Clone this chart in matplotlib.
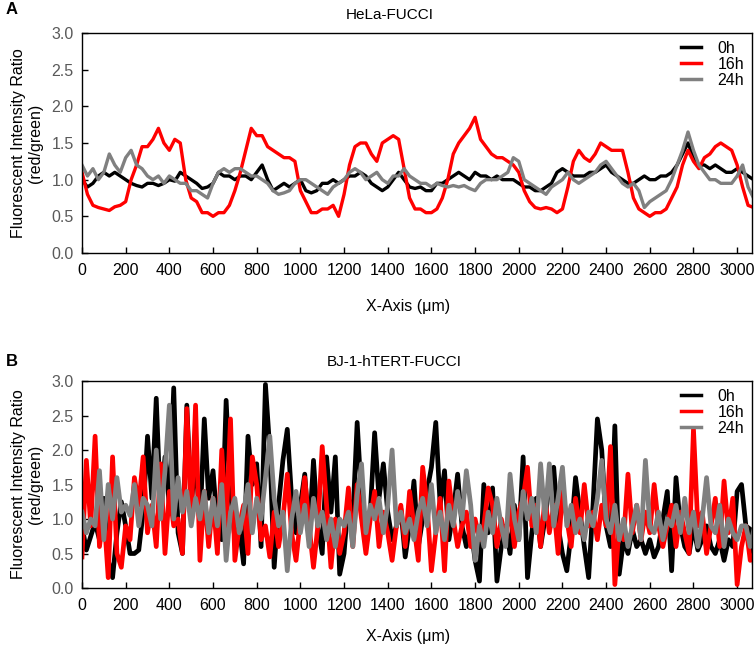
import numpy as np
import matplotlib
matplotlib.use("Agg")
import matplotlib.pyplot as plt

plt.rcParams['font.family'] = ['Liberation Sans', 'DejaVu Sans']

# ---------------- Panel A data (HeLa-FUCCI), 25 um steps ----------------
xa = np.arange(0, 3076, 25)
a_0h = [1.0, 0.9, 0.95, 1.05, 1.1, 1.05, 1.1, 1.05, 1.0, 0.95, 0.92, 0.9, 0.95, 0.95, 0.92, 0.95,
        1.0, 0.98, 1.1, 1.05, 1.0, 0.95, 0.88, 0.9, 0.95, 1.1, 1.05, 1.05, 1.0, 1.05, 1.05, 1.0,
        1.1, 1.2, 1.0, 0.85, 0.9, 0.95, 0.9, 0.95, 1.0, 0.85, 0.82, 0.85, 0.95, 0.95, 1.0, 0.95,
        1.0, 1.05, 1.05, 1.1, 1.05, 0.95, 0.9, 0.85, 0.9, 1.0, 1.1, 1.0, 0.9, 0.88, 0.9, 0.85,
        0.85, 0.95, 0.95, 1.0, 1.05, 1.1, 1.05, 1.0, 1.1, 1.05, 1.05, 1.0, 1.05, 1.0, 1.0, 1.0,
        0.95, 0.9, 0.9, 0.85, 0.85, 0.9, 0.95, 1.1, 1.15, 1.1, 1.05, 1.05, 1.05, 1.1, 1.1, 1.15,
        1.2, 1.1, 1.05, 1.0, 0.95, 0.95, 1.0, 1.05, 1.0, 1.0, 1.05, 1.05, 1.1, 1.2, 1.35, 1.5,
        1.3, 1.2, 1.2, 1.15, 1.2, 1.15, 1.1, 1.1, 1.15, 1.1, 1.05, 1.0]
a_16h = [1.1, 0.8, 0.65, 0.62, 0.6, 0.58, 0.63, 0.65, 0.7, 1.0, 1.2, 1.45, 1.45, 1.55, 1.7, 1.5,
         1.4, 1.55, 1.5, 1.0, 0.75, 0.7, 0.55, 0.55, 0.5, 0.55, 0.55, 0.65, 0.85, 1.1, 1.4, 1.7,
         1.6, 1.6, 1.45, 1.4, 1.35, 1.3, 1.3, 1.25, 0.85, 0.7, 0.55, 0.55, 0.6, 0.6, 0.65, 0.5,
         0.8, 1.2, 1.45, 1.5, 1.5, 1.35, 1.25, 1.5, 1.55, 1.6, 1.55, 1.15, 0.75, 0.6, 0.6, 0.55,
         0.55, 0.6, 0.75, 1.0, 1.35, 1.5, 1.6, 1.7, 1.85, 1.55, 1.45, 1.35, 1.3, 1.3, 1.25, 1.2,
         1.1, 0.85, 0.7, 0.62, 0.6, 0.62, 0.6, 0.55, 0.6, 0.9, 1.25, 1.4, 1.3, 1.25, 1.35, 1.5,
         1.45, 1.4, 1.4, 1.4, 1.1, 0.75, 0.6, 0.55, 0.5, 0.55, 0.55, 0.6, 0.75, 0.9, 1.2, 1.4,
         1.25, 1.15, 1.3, 1.35, 1.45, 1.5, 1.45, 1.4, 1.2, 0.9, 0.65, 0.62]
a_24h = [1.2, 1.05, 1.15, 1.0, 1.1, 1.35, 1.2, 1.1, 1.3, 1.4, 1.2, 1.15, 1.05, 1.0, 1.05, 0.95,
         1.05, 1.0, 0.95, 0.95, 0.85, 0.85, 0.8, 0.75, 0.95, 1.1, 1.15, 1.1, 1.15, 1.15, 1.1, 1.05,
         1.05, 1.0, 0.95, 0.85, 0.8, 0.82, 0.85, 0.95, 1.0, 1.0, 0.95, 0.9, 0.85, 0.8, 0.9, 0.95,
         1.0, 1.1, 1.15, 1.1, 1.0, 1.05, 1.1, 1.0, 0.95, 1.05, 1.05, 1.15, 1.05, 1.0, 0.95, 0.95,
         0.9, 0.95, 0.92, 0.9, 0.92, 0.9, 0.92, 0.88, 0.85, 0.95, 1.0, 1.0, 1.0, 1.05, 1.1, 1.3,
         1.25, 1.0, 0.95, 0.9, 0.85, 0.8, 0.9, 0.95, 1.0, 1.1, 1.0, 0.95, 1.0, 1.05, 1.1, 1.2,
         1.25, 1.15, 1.05, 0.95, 0.9, 0.95, 0.85, 0.62, 0.7, 0.75, 0.8, 0.85, 1.0, 1.2, 1.4, 1.65,
         1.4, 1.2, 1.1, 1.0, 1.0, 0.95, 0.95, 0.95, 1.05, 1.2, 0.9, 0.75]

# ---------------- Panel B data (BJ-1-hTERT-FUCCI), 20 um steps ----------------
xb = np.arange(0, 3081, 20)
b_0h = [0.9, 0.55, 0.75, 0.95, 0.7, 1.3, 0.4, 0.15, 0.8, 1.25, 0.9, 0.5, 0.5, 0.55, 1.1, 2.2,
        1.3, 2.75, 1.1, 1.9, 1.2, 2.9, 0.8, 0.5, 2.65, 1.2, 1.9, 0.9, 2.45, 1.3, 1.7, 0.9,
        0.7, 2.72, 1.4, 0.7, 0.9, 0.35, 2.2, 1.5, 1.8, 0.6, 2.95, 2.0, 0.3, 1.2, 1.85, 2.3,
        1.3, 0.8, 1.2, 1.65, 0.75, 1.85, 0.9, 0.5, 1.9, 1.1, 1.9, 0.2, 0.5, 1.3, 1.0, 2.4,
        1.3, 0.9, 1.1, 2.25, 1.3, 1.8, 1.1, 0.7, 0.9, 1.15, 0.45, 0.9, 1.55, 0.6, 1.0, 1.4,
        1.75, 2.4, 1.2, 1.7, 0.7, 1.1, 1.65, 0.9, 0.6, 0.9, 0.4, 0.1, 1.5, 0.8, 1.45, 0.1,
        0.6, 0.9, 0.5, 1.2, 0.7, 1.9, 0.15, 0.8, 1.3, 0.6, 1.0, 1.5, 1.75, 0.9, 0.5, 0.25,
        0.8, 1.6, 1.1, 0.6, 0.15, 1.2, 2.45, 2.0, 0.9, 0.6, 2.35, 0.2, 0.7, 0.5, 0.85, 0.6,
        0.7, 0.5, 0.7, 0.45, 0.6, 1.0, 1.4, 0.25, 1.6, 0.9, 0.6, 0.5, 0.9, 0.55, 0.7, 0.9,
        0.6, 0.5, 0.7, 0.4, 0.7, 0.6, 1.4, 1.5, 0.9, 0.85, 0.3]
b_16h = [0.45, 1.85, 0.9, 2.2, 0.6, 1.1, 0.15, 1.9, 0.5, 0.3, 0.9, 0.7, 1.6, 1.2, 1.9, 0.8,
         1.2, 0.6, 1.8, 0.5, 1.4, 0.9, 1.0, 0.5, 2.6, 1.0, 2.65, 0.4, 1.4, 0.6, 1.3, 0.5,
         2.0, 0.9, 2.45, 0.4, 0.9, 1.2, 0.5, 1.9, 1.5, 0.7, 0.9, 0.45, 1.1, 0.6, 1.0, 1.65,
         0.8, 0.4, 1.0, 1.6, 0.9, 0.3, 0.9, 2.05, 1.2, 0.3, 1.0, 0.5, 0.8, 1.45, 0.6, 1.5,
         1.0, 0.5, 1.0, 1.4, 0.6, 1.1, 0.8, 0.4, 0.9, 1.2, 0.6, 1.4, 0.9, 0.4, 1.75, 1.2,
         0.25, 0.8, 1.3, 0.25, 1.55, 1.0, 0.6, 0.9, 1.1, 0.6, 1.0, 0.7, 0.9, 1.45, 1.2, 0.6,
         1.0, 0.7, 1.2, 0.6, 1.1, 1.3, 1.75, 0.9, 1.2, 0.6, 1.3, 0.8, 1.2, 0.5, 1.4, 1.0,
         0.6, 1.3, 0.8, 1.5, 0.9, 1.1, 0.7, 1.2, 0.9, 2.05, 0.05, 0.9, 0.7, 1.65, 0.8, 1.2,
         0.7, 1.1, 0.8, 1.5, 0.9, 0.6, 0.9, 1.2, 0.6, 1.1, 0.8, 0.5, 2.3, 0.9, 1.1, 0.5,
         0.9, 1.3, 0.6, 1.55, 0.8, 1.3, 0.05, 0.6, 0.9, 0.4, 0.5]
b_24h = [1.1, 0.8, 1.0, 0.9, 1.7, 0.7, 1.5, 1.0, 1.6, 1.1, 1.2, 1.05, 1.5, 0.9, 1.3, 1.2,
         0.9, 2.0, 1.0, 1.7, 2.65, 1.0, 1.6, 1.1, 1.4, 0.9, 1.3, 1.0, 1.4, 0.8, 1.3, 0.9,
         1.5, 0.4, 1.1, 1.3, 0.8, 1.1, 1.5, 0.8, 1.3, 1.0, 1.6, 2.2, 1.3, 0.9, 1.1, 0.25,
         1.0, 1.4, 0.8, 1.2, 0.6, 1.3, 0.9, 1.1, 0.7, 1.0, 0.6, 1.0, 0.9, 1.1, 0.6, 1.35,
         1.8, 0.8, 1.2, 1.0, 1.3, 0.8, 1.2, 2.0, 0.9, 1.1, 0.8, 1.0, 0.7, 1.1, 1.3, 0.9,
         1.5, 0.8, 1.1, 0.7, 1.2, 0.9, 1.4, 1.0, 1.7, 1.2, 0.4, 0.9, 0.6, 1.1, 0.8, 1.3,
         0.9, 0.6, 1.65, 1.0, 0.7, 1.4, 1.0, 1.3, 0.8, 1.8, 1.0, 1.8, 0.9, 1.3, 1.75, 0.9,
         1.2, 0.8, 1.0, 0.7, 1.1, 0.9, 1.3, 1.85, 1.0, 0.8, 1.2, 0.7, 1.0, 0.6, 0.9, 1.2,
         0.7, 1.85, 0.9, 0.8, 1.1, 0.7, 1.0, 0.9, 1.2, 0.8, 1.3, 0.8, 1.1, 0.6, 1.0, 1.6,
         0.9, 0.8, 1.2, 0.6, 1.0, 0.8, 0.7, 0.9, 0.9, 0.6, 0.9]

labels = ['0h', '16h', '24h']
colors = ['#000000', '#ff0000', '#808080']
xticks = list(range(0, 3001, 200))
yticks = [0.0, 0.5, 1.0, 1.5, 2.0, 2.5, 3.0]
titles = ['HeLa-FUCCI', 'BJ-1-hTERT-FUCCI']

W, H = 755, 648
FS = 11.5
fig = plt.figure(figsize=(W / 100, H / 100), dpi=100)

def make_axes(top_px, bot_px):
    return fig.add_axes([82 / W, 1 - bot_px / H, (752 - 82) / W, (bot_px - top_px) / H])

axA = make_axes(33, 253)
axB = make_axes(381, 588)

for ax, xs, series, lw in [(axA, xa, [a_0h, a_16h, a_24h], 2.4),
                           (axB, xb, [b_0h, b_16h, b_24h], 3.4)]:
    for ys, c, lab in zip(series, colors, labels):
        ax.plot(xs, ys, color=c, lw=lw, label=lab, solid_joinstyle='round')
    ax.set_xlim(0, 3068)
    ax.set_ylim(0, 3.0)
    ax.set_xticks(xticks)
    ax.set_xticklabels([str(t) for t in xticks], fontsize=FS)
    ax.set_yticks(yticks)
    ax.set_yticklabels([f'{t:.1f}' for t in yticks], fontsize=FS, color='#595959')
    ax.tick_params(axis='both', direction='in', length=4, width=1, top=False, right=False)
    ax.tick_params(axis='x', pad=7)
    ax.tick_params(axis='y', pad=6)
    for s in ax.spines.values():
        s.set_linewidth(1.0)
    ax.set_ylabel('Fluorescent Intensity Ratio\n(red/green)', fontsize=FS, labelpad=6,
                  linespacing=1.15)
    leg = ax.legend(loc='upper right', frameon=False, fontsize=FS, handlelength=1.3,
                    handletextpad=1.0, labelspacing=0.05, borderaxespad=0.1)
    for t in leg.get_texts():
        t.set_ha('right')
    for h in leg.get_lines():
        h.set_linewidth(2.5)

fig.text(408 / W, 1 - 307 / H, 'X-Axis (μm)', ha='center', va='center', fontsize=FS)
fig.text(408 / W, 1 - 637 / H, 'X-Axis (μm)', ha='center', va='center', fontsize=FS)
fig.text(390 / W, 1 - 15 / H, titles[0], ha='center', va='center', fontsize=11)
fig.text(394 / W, 1 - 362 / H, titles[1], ha='center', va='center', fontsize=11)
fig.text(12 / W, 1 - 10 / H, 'A', ha='center', va='center', fontsize=12, fontweight='bold')
fig.text(12 / W, 1 - 362 / H, 'B', ha='center', va='center', fontsize=12, fontweight='bold')

fig.savefig('out.png', dpi=100)
